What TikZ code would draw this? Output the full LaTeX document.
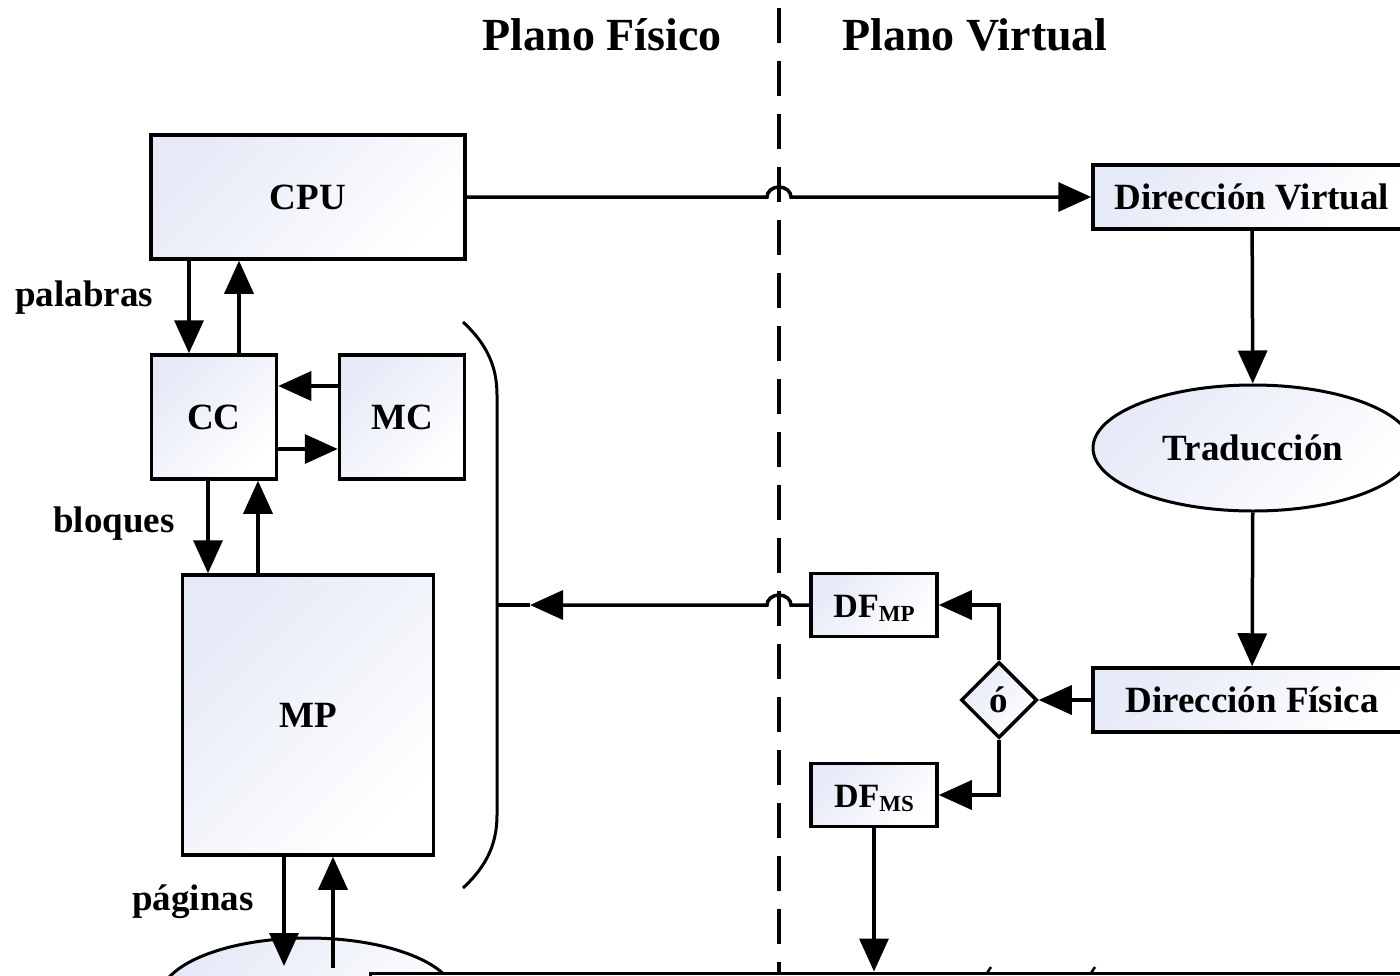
\documentclass[tikz,border=0pt]{standalone}
\usepackage{fontspec}
\setmainfont{Liberation Serif}
\usetikzlibrary{arrows.meta,shapes.geometric}
\definecolor{boxfill}{RGB}{230,234,247}

\begin{document}
\begin{tikzpicture}[x=1pt, y=-1pt,
  box/.style={draw, line width=3.5pt, inner sep=0pt, top color=boxfill, bottom color=white, shading angle=45,
    font=\bfseries\fontsize{37}{40}\selectfont, text height=25pt, text depth=0pt},
  arr/.style={line width=3.5pt, -{Triangle[length=33pt,width=29pt]}},
  lbl/.style={anchor=base west, inner sep=0pt, font=\bfseries\fontsize{37}{40}\selectfont},
  titulo/.style={anchor=base, inner sep=0pt, font=\bfseries\fontsize{46}{50}\selectfont},
  corte/.style={line width=3.5pt, dash pattern=on 35pt off 18pt}]
  \useasboundingbox (0, 0) rectangle (1400, 975);
  \clip (0, 0) rectangle (1400, 975);

  \node[titulo] (fis) at (602, 50) {Plano Físico};
  \node[titulo] (vir) at (975, 50) {Plano Virtual};
  \coordinate (top) at (779, 8);
  \coordinate (bot) at (779, 975);
  \draw[corte] (top) -- (bot);

  % plano fisico
  \node[box, minimum width=314pt, minimum height=124pt] (cpu) at (308, 197) {CPU};
  \node[box, minimum width=125pt, minimum height=124pt] (cc) at (214, 417) {CC};
  \node[box, minimum width=125pt, minimum height=124pt] (mc) at (402, 417) {MC};
  \node[box, minimum width=251pt, minimum height=280pt] (mp) at (308, 715) {MP};
  \node[box, ellipse, line width=3pt, minimum width=296pt, minimum height=120pt] (ms) at (308, 998) {};
  \node[lbl] (pal) at (15, 306) {palabras};
  \node[lbl] (blo) at (53, 532) {bloques};
  \node[lbl] (pag) at (132, 910) {páginas};

  \draw[arr] ([xshift=-25pt]cc.north |- cpu.south) -- ([xshift=-25pt]cc.north);
  \draw[arr] ([xshift=25pt]cc.north) -- ([xshift=25pt]cc.north |- cpu.south);
  \draw[arr] ([yshift=31pt]mc.west) -- ([yshift=31pt]cc.east);
  \draw[arr] ([yshift=-32pt]cc.east) -- ([yshift=-32pt]mc.west);
  \draw[arr] ([xshift=-6pt]cc.south) -- ([xshift=-6pt]cc.south |- mp.north);
  \draw[arr] ([xshift=44pt]cc.south |- mp.north) -- ([xshift=44pt]cc.south);
  \draw[arr] ([xshift=-24pt]mp.south) -- ([xshift=-24pt, yshift=32pt]ms.center);
  \draw[arr] ([xshift=25pt, yshift=30pt]ms.center) -- ([xshift=25pt]mp.south);

  \coordinate (brk) at (530, 605);
  \draw[line width=3pt] (463, 322) .. controls (488, 345) and (497, 368) .. (497, 395)
    -- (497, 815) .. controls (497, 842) and (488, 865) .. (463, 888);
  \draw[line width=3.5pt] (497, 605) -- (brk);

  % plano virtual
  \node[box, minimum width=318pt, minimum height=64pt] (dv) at (1252, 197) {Dirección Virtual};
  \node[box, ellipse, line width=3pt, minimum width=320pt, minimum height=126pt] (tr) at (1253, 448) {Traducción};
  \node[box, minimum width=318pt, minimum height=64pt] (df) at (1252, 700) {Dirección Física};
  \node[box, diamond, minimum width=76pt, minimum height=76pt] (o) at (999, 700) {ó};
  \node[box, minimum width=126pt, minimum height=63pt] (dfmp) at (874, 605)
    {{\fontsize{34}{34}\selectfont DF}\raisebox{-4pt}{\fontsize{23}{23}\selectfont MP}};
  \node[box, minimum width=126pt, minimum height=63pt] (dfms) at (874, 795)
    {{\fontsize{34}{34}\selectfont DF}\raisebox{-4pt}{\fontsize{23}{23}\selectfont MS}};

  \coordinate (hop1) at (top |- cpu.east);
  \coordinate (hop2) at (top |- dfmp.west);
  \draw[arr] (cpu.east) -- ([xshift=-12pt]hop1)
    arc[start angle=180, end angle=0, x radius=12pt, y radius=10pt] -- (dv.west);
  \draw[arr] (dfmp.west) -- ([xshift=12pt]hop2)
    arc[start angle=0, end angle=180, x radius=12pt, y radius=10pt] -- (brk);
  \draw[arr] (dv) -- (tr);
  \draw[arr] (tr) -- (df);
  \draw[arr] (df) -- (o);
  \draw[arr] (o.north) |- (dfmp.east);
  \draw[arr] (o.south) |- (dfms.east);

  \node[draw, fill=white, line width=3pt, inner sep=0pt, minimum width=1060pt, minimum height=80pt] (bx) at (900, 1013) {};
  \draw[arr] (dfms.south) -- (dfms.south |- bx.north);
  \foreach \x in {987, 1091} {
    \draw[line width=2.5pt] (\x, 973) -- (\x + 4, 967);
  }
\end{tikzpicture}
\end{document}
